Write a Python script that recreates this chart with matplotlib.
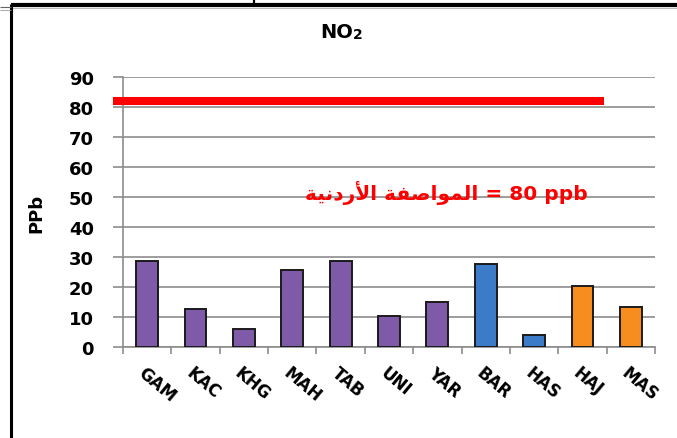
import matplotlib
matplotlib.use("Agg")
from matplotlib import pyplot as plt
from matplotlib.lines import Line2D

# station values (ppb)
stations = ["GAM", "KAC", "KHG", "MAH", "TAB", "UNI", "YAR", "BAR", "HAS", "HAJ", "MAS"]
no2 = [28.8, 12.7, 6.0, 25.8, 28.8, 10.5, 14.9, 27.7, 4.1, 20.2, 13.4]
groups = ["p", "p", "p", "p", "p", "p", "p", "b", "b", "o", "o"]
group_colors = {"p": "#7E5AA8", "b": "#3B7BC8", "o": "#F78D1E"}

# Jordanian standard line
limit_value = 82
limit_span = (-0.71, 9.45)
# visual-order presentation forms so the Arabic shows joined right-to-left
limit_text = ("\uFE94\uFEF4\uFEE7\uFEA9\uFEAD\uFEF7\uFE8D "
              "\uFE94\uFED4\uFEBB\uFE8D\uFEEE\uFEE4\uFEDF\uFE8D = 80 ppb")

W, H = 677, 439
fig = plt.figure(figsize=(W / 100, H / 100), dpi=100)
fig.patch.set_facecolor("white")

ax = fig.add_axes([123 / W, (H - 348) / H, (655 - 123) / W, 270 / H])
x = list(range(len(stations)))
ax.bar(x, no2, width=0.45, color=[group_colors[g] for g in groups],
       edgecolor="#1a1a1a", linewidth=1.4, zorder=3)

ax.set_xlim(-0.5, len(stations) - 0.5)
ax.set_ylim(0, 90)
ax.set_yticks(range(0, 91, 10))
ax.yaxis.grid(True, color="#8c8c8c", linewidth=1.2, zorder=0)
ax.set_axisbelow(True)

for s in ["top", "right"]:
    ax.spines[s].set_visible(False)
for s in ["left", "bottom"]:
    ax.spines[s].set_color("#8c8c8c")
    ax.spines[s].set_linewidth(1.2)

ax.tick_params(axis="y", length=7, width=1.2, color="#8c8c8c", pad=14,
               labelsize=13)
for t in ax.get_yticklabels():
    t.set_fontweight("bold")

# x ticks at category boundaries, labels at centres
ax.set_xticks([i - 0.5 for i in range(len(stations) + 1)])
ax.set_xticklabels([])
ax.tick_params(axis="x", length=5, width=1.2, color="#8c8c8c")
for i, name in enumerate(stations):
    ax.text(i - 0.02, -5.5, name, rotation=-40, ha="left", va="top",
            rotation_mode="anchor", fontsize=12, fontweight="bold")

ax.set_ylabel("PPb", fontsize=13, fontweight="bold")
ax.yaxis.set_label_coords(-0.145, 0.5)

ax.plot(limit_span, [limit_value, limit_value], color="#ff0000",
        linewidth=5.8, solid_capstyle="butt", clip_on=False, zorder=4)
ax.text(9.1, 51.8, limit_text, color="#ff0000", ha="right", va="center",
        fontsize=14.5, fontweight="bold")

# title NO2 with small 2
fig.text(353 / W, 1 - 32 / H, "NO", ha="right", va="center",
         fontsize=14, fontweight="bold")
fig.text(353 / W, 1 - 35 / H, "2", ha="left", va="center",
         fontsize=10, fontweight="bold")

# document frame around the chart
def px_line(xs, ys, lw, color="black"):
    fig.add_artist(Line2D([v / W for v in xs], [1 - v / H for v in ys],
                          transform=fig.transFigure, color=color,
                          linewidth=lw, solid_capstyle="butt"))

px_line([11, W], [5.5, 5.5], 3)
px_line([11, W], [8.5, 8.5], 0.8, "#bbbbbb")
px_line([254, 254], [0, 5], 1.6)
px_line([10.5, 10.5], [5, H], 2.2)
px_line([0, 11], [7.5, 7.5], 0.8, "#666666")
px_line([0, 11], [10.5, 10.5], 0.6, "#999999")

fig.savefig("out.png", dpi=100)
